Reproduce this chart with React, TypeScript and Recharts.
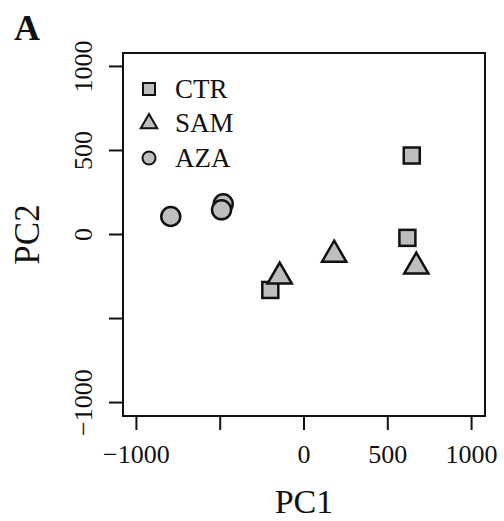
import React from 'react'
import {
  ScatterChart,
  Scatter,
  XAxis,
  YAxis,
  ReferenceArea,
  Legend,
  Label,
} from 'recharts'

const groups = ['CTR', 'SAM', 'AZA']

const ctrPc1 = [643, 617, -201]
const ctrPc2 = [470, -20, -330]
const samPc1 = [-145, 180, 670]
const samPc2 = [-250, -120, -191]
const azaPc1 = [-795, -482, -492]
const azaPc2 = [107, 183, 147]

const axisTicks = [-1000, -500, 0, 500, 1000]
const hiddenTicks = [-500]
const axisDomain = [-1080, 1080]

const FONT = '"Liberation Serif", "Times New Roman", serif'
const INK = '#111'
const GREY = '#bebebe'

const toRows = (xs: number[], ys: number[]) => xs.map((x, i) => ({ pc1: x, pc2: ys[i] }))

const ctrData = toRows(ctrPc1, ctrPc2)
const samData = toRows(samPc1, samPc2)
const azaData = toRows(azaPc1, azaPc2)

const fmt = (v: number) => (hiddenTicks.includes(v) ? '' : v < 0 ? '\u2212' + Math.abs(v) : String(v))

// marker glyphs, drawn round a centre point
const Glyph = ({ kind, cx, cy, big }: { kind: string; cx: number; cy: number; big: boolean }) => {
  const sw = big ? 2.5 : 2
  if (kind === 'CTR') {
    const s = big ? 16 : 12
    return <rect x={cx - s / 2} y={cy - s / 2} width={s} height={s} fill={GREY} stroke={INK} strokeWidth={sw} />
  }
  if (kind === 'SAM') {
    const r = big ? 14 : 9.5
    const hx = (r * Math.sqrt(3)) / 2
    const pts = `${cx},${cy - r} ${cx + hx},${cy + r / 2} ${cx - hx},${cy + r / 2}`
    return <polygon points={pts} fill={GREY} stroke={INK} strokeWidth={sw} strokeLinejoin="miter" />
  }
  return <circle cx={cx} cy={cy} r={big ? 9.5 : 6.5} fill={GREY} stroke={INK} strokeWidth={sw} />
}

const XTick = (props: any) => {
  const { x, y, payload } = props
  return (
    <text x={x} y={y + 33} textAnchor="middle" fontFamily={FONT} fontSize={26} fill={INK}>
      {fmt(payload.value)}
    </text>
  )
}

const YTick = (props: any) => {
  const { x, y, payload } = props
  const px = x - 17
  return (
    <text
      x={px}
      y={y}
      transform={`rotate(-90, ${px}, ${y})`}
      textAnchor="middle"
      fontFamily={FONT}
      fontSize={26}
      fill={INK}
    >
      {fmt(payload.value)}
    </text>
  )
}

const XTitle = (props: any) => {
  const vb = props.viewBox
  return (
    <text x={vb.x + vb.width / 2} y={513} textAnchor="middle" fontFamily={FONT} fontSize={34} fill={INK}>
      PC1
    </text>
  )
}

const YTitle = (props: any) => {
  const vb = props.viewBox
  const cy = vb.y + vb.height / 2
  return (
    <g>
      <text
        x={39}
        y={cy}
        transform={`rotate(-90, 39, ${cy})`}
        textAnchor="middle"
        fontFamily={FONT}
        fontSize={35}
        fill={INK}
      >
        PC2
      </text>
      <text x={14} y={40} fontFamily={FONT} fontSize={36} fontWeight="bold" fill={INK}>
        A
      </text>
    </g>
  )
}

const LegendBox = (props: any) => {
  const items = [...(props.payload || [])].sort(
    (a: any, b: any) => groups.indexOf(a.value) - groups.indexOf(b.value)
  )
  return (
    <svg width={120} height={110} style={{ display: 'block', overflow: 'visible' }}>
      {items.map((item: any, i: number) => {
        const cy = 19 + i * 34.5
        return (
          <g key={item.value}>
            <Glyph kind={item.value} cx={19} cy={cy} big={false} />
            <text x={45} y={cy + 8.5} fontFamily={FONT} fontSize={27} fill={INK}>
              {item.value}
            </text>
          </g>
        )
      })}
    </svg>
  )
}

export default function App() {
  const series = [ctrData, samData, azaData]
  return (
    <div style={{ position: 'absolute', left: 0, top: 0, background: '#fff' }}>
      <ScatterChart width={504} height={521} margin={{ top: 53, right: 19, bottom: 0, left: 0 }}>
        <XAxis
          type="number"
          dataKey="pc1"
          domain={axisDomain}
          ticks={axisTicks}
          interval={0}
          allowDataOverflow
          axisLine={false}
          tickSize={14}
          tickMargin={0}
          tickLine={{ stroke: INK, strokeWidth: 2 }}
          tick={<XTick />}
          height={105}
        >
          <Label content={<XTitle />} />
        </XAxis>
        <YAxis
          type="number"
          dataKey="pc2"
          domain={axisDomain}
          ticks={axisTicks}
          interval={0}
          allowDataOverflow
          axisLine={false}
          tickSize={14}
          tickMargin={0}
          tickLine={{ stroke: INK, strokeWidth: 2 }}
          tick={<YTick />}
          width={123}
        >
          <Label content={<YTitle />} />
        </YAxis>
        <ReferenceArea
          x1={axisDomain[0]}
          x2={axisDomain[1]}
          y1={axisDomain[0]}
          y2={axisDomain[1]}
          fill="none"
          stroke={INK}
          strokeWidth={2}
          ifOverflow="visible"
        />
        <Legend
          layout="vertical"
          align="center"
          verticalAlign="middle"
          content={<LegendBox />}
          wrapperStyle={{ position: 'absolute', left: 130, top: 70, width: 120, height: 110 }}
        />
        {groups.map((g, i) => (
          <Scatter
            key={g}
            name={g}
            data={series[i]}
            fill={GREY}
            isAnimationActive={false}
            shape={(p: any) => <Glyph kind={g} cx={p.cx} cy={p.cy} big={true} />}
          />
        ))}
      </ScatterChart>
    </div>
  )
}
